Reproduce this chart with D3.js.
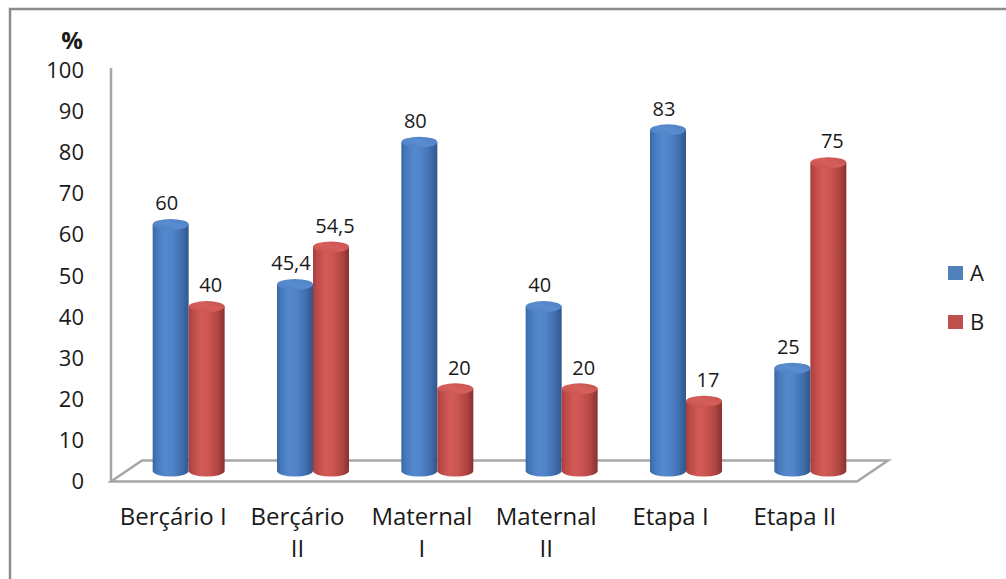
<!DOCTYPE html>
<html>
<head>
<meta charset="utf-8">
<script src="https://cdn.jsdelivr.net/npm/d3@7"></script>
<style>
  html, body { margin: 0; padding: 0; background: #fff; }
  svg { display: block; }
  text { font-family: "Open Sans", "Noto Sans", sans-serif; fill: #1a1a1a; }
</style>
</head>
<body>
<svg id="chart" width="1006" height="579"></svg>
<script>
// Chart data
const categories = ["Berçário I", "Berçário\nII", "Maternal\nI", "Maternal\nII", "Etapa I", "Etapa II"];
const seriesNames = ["A", "B"];
const valuesA = [60, 45.4, 80, 40, 83, 25];
const valuesB = [40, 54.5, 20, 20, 17, 75];
const tickValues = [0, 10, 20, 30, 40, 50, 60, 70, 80, 90, 100];
const axisTitle = "%";

const seriesValues = { A: valuesA, B: valuesB };
const fmt = v => String(v).replace(".", ",");

const svg = d3.select("#chart");
const defs = svg.append("defs");

// Frame around the whole chart area
svg.append("rect")
  .attr("x", 10).attr("y", 9)
  .attr("width", 1010).attr("height", 600)
  .attr("fill", "none")
  .attr("stroke", "#8c8c8c")
  .attr("stroke-width", 2.5);

// Plot geometry (front plane) and 3D depth of the floor
const plot = { left: 111, right: 857 };
const depth = { dx: 31, dy: -21 };

const y = d3.scaleLinear().domain([0, 100]).range([481.5, 70.5]);
const x0 = d3.scaleBand().domain(categories).range([plot.left, plot.right]);
const x1 = d3.scaleBand().domain(seriesNames)
  .range([0, x0.bandwidth()])
  .paddingInner(0)
  .paddingOuter(0.727);

// Cylinder shading
const shades = {
  A: { stops: [[0, "#3a67a4"], [0.12, "#4679bb"], [0.35, "#5589cf"], [0.55, "#5083c8"], [0.8, "#416fae"], [1, "#30568c"]], top: "#5a8dd0", topEdge: "#4c7fc2" },
  B: { stops: [[0, "#a53f3c"], [0.12, "#bd4b48"], [0.35, "#d25b57"], [0.55, "#cc5551"], [0.8, "#b14643"], [1, "#88312f"]], top: "#d65f5b", topEdge: "#c4504c" }
};
seriesNames.forEach(s => {
  const g = defs.append("linearGradient").attr("id", "body-" + s)
    .attr("x1", "0%").attr("x2", "100%").attr("y1", "0%").attr("y2", "0%");
  shades[s].stops.forEach(([o, c]) => g.append("stop").attr("offset", o).attr("stop-color", c));
  const t = defs.append("linearGradient").attr("id", "top-" + s)
    .attr("x1", "0%").attr("x2", "100%").attr("y1", "100%").attr("y2", "0%");
  t.append("stop").attr("offset", 0).attr("stop-color", shades[s].topEdge);
  t.append("stop").attr("offset", 0.5).attr("stop-color", shades[s].top);
  t.append("stop").attr("offset", 1).attr("stop-color", shades[s].topEdge);
});

// Floor of the 3D plot
const f0 = [plot.left, y(0)], f1 = [plot.right, y(0)];
svg.append("path")
  .attr("d", `M${f0[0]},${f0[1]} L${f1[0]},${f1[1]} L${f1[0] + depth.dx},${f1[1] + depth.dy} L${f0[0] + depth.dx},${f0[1] + depth.dy} Z`)
  .attr("fill", "#fff")
  .attr("stroke", "#a6a6a6")
  .attr("stroke-width", 2.5)
  .attr("stroke-linejoin", "miter");

// Vertical axis line
svg.append("line")
  .attr("x1", plot.left).attr("x2", plot.left)
  .attr("y1", y(0)).attr("y2", y(100) - 2.5)
  .attr("stroke", "#a6a6a6").attr("stroke-width", 2.5);

// Y axis labels
const yAxis = svg.append("g")
  .attr("transform", `translate(${plot.left},0)`)
  .call(d3.axisLeft(y).tickValues(tickValues).tickSize(0).tickPadding(27).tickFormat(d3.format("d")));
yAxis.select(".domain").remove();
yAxis.selectAll("text")
  .style("font-family", "'Open Sans', sans-serif")
  .style("font-size", "22px")
  .attr("fill", "#1a1a1a");

svg.append("text")
  .attr("x", 72).attr("y", 49)
  .attr("text-anchor", "middle")
  .style("font-size", "24px").style("font-weight", "bold")
  .text(axisTitle);

// Cylinders
const rx = x1.bandwidth() / 2, ry = 5.5;
const midDx = depth.dx / 2, midDy = depth.dy / 2;
const bars = [];
categories.forEach((c, i) => {
  seriesNames.forEach(s => {
    const v = seriesValues[s][i];
    const cx = x0(c) + midDx + x1(s) + rx;
    bars.push({ s, v, cx, yb: y(0) + midDy, yt: y(v) + midDy });
  });
});

const barG = svg.append("g").selectAll("g").data(bars).join("g");
barG.append("path")
  .attr("d", d => `M${d.cx - rx},${d.yt} L${d.cx - rx},${d.yb} A${rx},${ry} 0 0 0 ${d.cx + rx},${d.yb} L${d.cx + rx},${d.yt} Z`)
  .attr("fill", d => `url(#body-${d.s})`);
barG.append("ellipse")
  .attr("cx", d => d.cx).attr("cy", d => d.yt)
  .attr("rx", rx).attr("ry", ry)
  .attr("fill", d => `url(#top-${d.s})`);

// Value labels
svg.append("g").selectAll("text").data(bars).join("text")
  .attr("x", d => d.cx + (d.s === "A" ? -4 : 4))
  .attr("y", d => d.yt - 21.5)
  .attr("dy", "0.36em")
  .attr("text-anchor", "middle")
  .style("font-size", "20px")
  .text(d => fmt(d.v));

// Category labels
const catG = svg.append("g").selectAll("text").data(categories).join("text")
  .attr("text-anchor", "middle")
  .style("font-size", "24px");
catG.each(function (c) {
  const lines = c.split("\n");
  const t = d3.select(this);
  lines.forEach((ln, k) => {
    t.append("tspan")
      .attr("x", x0(c) + x0.bandwidth() / 2)
      .attr("y", 525 + k * 32)
      .text(ln);
  });
});

// Legend
const legend = svg.append("g").selectAll("g").data(seriesNames).join("g")
  .attr("transform", (d, i) => `translate(948,${266 + i * 49})`);
legend.append("rect")
  .attr("width", 15).attr("height", 14)
  .attr("fill", d => d === "A" ? "#4f81bd" : "#c0504d");
legend.append("text")
  .attr("x", 22).attr("y", 7).attr("dy", "0.36em")
  .style("font-size", "22px")
  .text(d => d);
</script>
</body>
</html>
